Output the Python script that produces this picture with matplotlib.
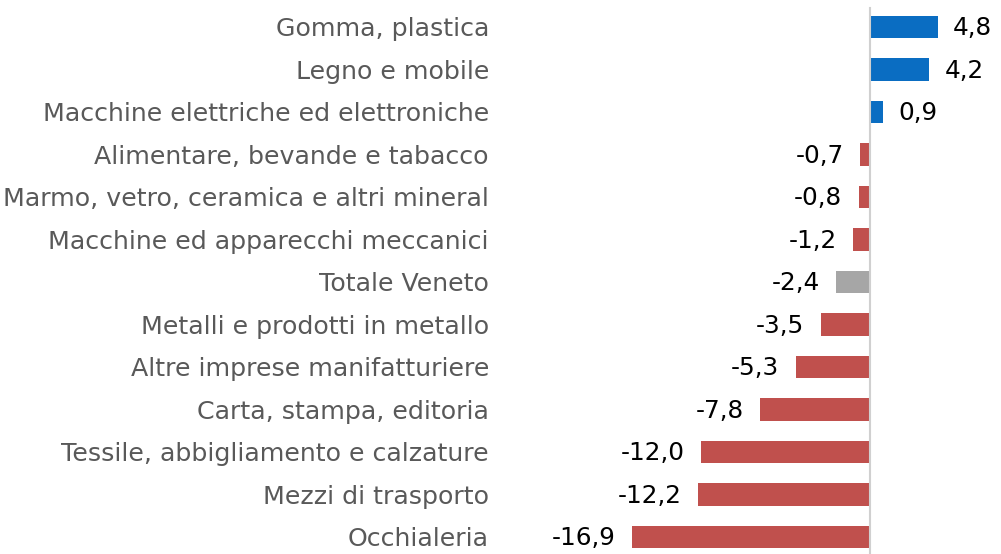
import matplotlib
matplotlib.use("Agg")
from matplotlib import pyplot as plt

categories = [
    "Gomma, plastica",
    "Legno e mobile",
    "Macchine elettriche ed elettroniche",
    "Alimentare, bevande e tabacco",
    "Marmo, vetro, ceramica e altri mineral",
    "Macchine ed apparecchi meccanici",
    "Totale Veneto",
    "Metalli e prodotti in metallo",
    "Altre imprese manifatturiere",
    "Carta, stampa, editoria",
    "Tessile, abbigliamento e calzature",
    "Mezzi di trasporto",
    "Occhialeria",
]
values = [4.8, 4.2, 0.9, -0.7, -0.8, -1.2, -2.4, -3.5, -5.3, -7.8, -12.0, -12.2, -16.9]

BLUE = "#0A6DC2"
RED = "#C0504D"
GRAY = "#A6A6A6"


def bar_color(cat, v):
    if cat == "Totale Veneto":
        return GRAY
    return BLUE if v > 0 else RED


fig = plt.figure(figsize=(10.01, 5.54), dpi=100)
ax = fig.add_axes([500 / 1001, 0, 501 / 1001, 1])

ypos = list(range(len(categories)))
colors = [bar_color(c, v) for c, v in zip(categories, values)]
ax.barh(ypos, values, height=0.52, color=colors, zorder=2)

ax.set_xlim(-26.3, 9.3)
ax.set_ylim(12.4, -0.635)
ax.axvline(0, ymin=0, ymax=0.985, color="#D0D0D0", lw=1.5, zorder=3)

# value labels, comma as decimal separator
for y, v in zip(ypos, values):
    txt = f"{v:.1f}".replace(".", ",")
    if v >= 0:
        ax.annotate(txt, (v, y), xytext=(11, -1), textcoords="offset points",
                    ha="left", va="center", fontsize=17.8, color="black")
    else:
        ax.annotate(txt, (v, y), xytext=(-12, -1), textcoords="offset points",
                    ha="right", va="center", fontsize=17.8, color="black")

ax.set_yticks(ypos)
ax.set_yticklabels(categories, fontsize=18.2, color="#595959")
ax.tick_params(axis="y", length=0, pad=8)
ax.set_xticks([])
for s in ax.spines.values():
    s.set_visible(False)

fig.savefig("out.png", dpi=100)
